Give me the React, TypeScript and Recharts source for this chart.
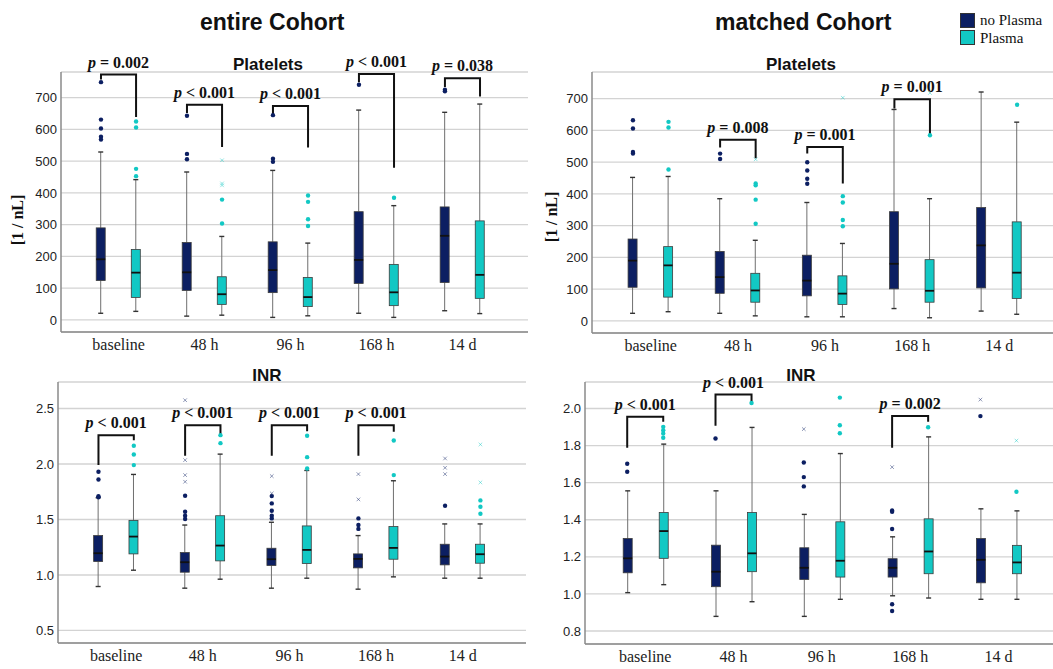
import React from 'react';
import { ComposedChart, Bar, Scatter, Line, XAxis, YAxis, CartesianGrid } from 'recharts';

const W = 1053;
const H = 669;
const NAVY = '#0c1f62';
const CYAN = '#12c8c4';
const OFF = 0.204; // half distance between the two boxes of one category, in category units
const SANS = '"Liberation Sans", Arial, sans-serif';
const SERIF = '"Liberation Serif", "Times New Roman", serif';

const CATEGORIES = ['baseline', '48 h', '96 h', '168 h', '14 d'];

// box stats: [min, q1, median, q3, max] per category
const ENTIRE_PLT_NO = [[21, 124, 191, 290, 529], [12, 93, 150, 244, 466], [8, 86, 157, 246, 471], [21, 115, 189, 341, 661], [29, 118, 265, 356, 654]];
const ENTIRE_PLT_YES = [[27, 71, 149, 222, 442], [15, 49, 81, 136, 263], [13, 42, 72, 134, 242], [8, 45, 87, 175, 360], [20, 68, 142, 312, 680]];
const ENTIRE_PLT_OUT_NO = [[749, 631, 603, 577, 568], [643, 523, 506], [645, 508, 498], [741], [725, 720]];
const ENTIRE_PLT_OUT_YES = [[625, 606, 476, 453], [379, 304], [392, 372, 317, 296], [385], []];
const ENTIRE_PLT_FAINT_NO = [[], [], [], [], []];
const ENTIRE_PLT_FAINT_YES = [[], [503, 430, 424], [704], [], []];
// [category, left leg end, bracket top, right leg end, p text]
const ENTIRE_PLT_P: [number, number, number, number, string][] = [
  [0, 757, 773, 639, '= 0.002'],
  [1, 652, 678, 545, '< 0.001'],
  [2, 645, 674, 543, '< 0.001'],
  [3, 749, 775, 479, '< 0.001'],
  [4, 734, 761, 704, '= 0.038'],
];

const MATCHED_PLT_NO = [[24, 106, 190, 258, 452], [24, 87, 138, 219, 385], [13, 79, 127, 207, 373], [39, 101, 180, 344, 666], [31, 104, 238, 357, 721]];
const MATCHED_PLT_YES = [[29, 75, 175, 234, 455], [16, 59, 96, 150, 254], [13, 52, 86, 142, 244], [10, 59, 95, 193, 385], [21, 71, 152, 312, 626]];
const MATCHED_PLT_OUT_NO = [[632, 606, 532, 527], [527, 510], [500, 474, 448, 432], [], []];
const MATCHED_PLT_OUT_YES = [[627, 609, 477], [433, 427, 382, 306], [393, 373, 318, 298], [585], [681]];
const MATCHED_PLT_FAINT_NO = [[], [], [], [], []];
const MATCHED_PLT_FAINT_YES = [[], [509], [703], [718], []];
const MATCHED_PLT_P: [number, number, number, number, string][] = [
  [1, 546, 571, 512, '= 0.008'],
  [2, 527, 548, 433, '= 0.001'],
  [3, 669, 698, 580, '= 0.001'],
];

const ENTIRE_INR_NO = [[0.896, 1.121, 1.196, 1.355, 1.696], [0.881, 1.025, 1.115, 1.202, 1.45], [0.881, 1.085, 1.142, 1.241, 1.475], [0.872, 1.064, 1.145, 1.19, 1.355], [0.971, 1.091, 1.166, 1.277, 1.46]];
const ENTIRE_INR_YES = [[1.043, 1.19, 1.346, 1.492, 1.906], [0.962, 1.127, 1.265, 1.534, 2.089], [0.971, 1.103, 1.226, 1.442, 1.942], [0.983, 1.142, 1.244, 1.436, 1.849], [0.971, 1.106, 1.187, 1.277, 1.46]];
const ENTIRE_INR_OUT_NO = [[1.93, 1.86, 1.71, 1.7], [1.714, 1.57, 1.534, 1.504], [1.711, 1.645, 1.579, 1.534, 1.51], [1.51, 1.45, 1.415], [1.624]];
const ENTIRE_INR_OUT_YES = [[2.164, 2.086, 1.99], [2.26, 2.188], [2.254, 2.062, 1.96], [2.212, 1.9], [1.672, 1.615, 1.552]];
const ENTIRE_INR_FAINT_NO = [[], [2.575, 2.035, 1.9, 1.84], [1.891, 1.735], [1.909, 1.681], [2.05, 1.966, 1.909]];
const ENTIRE_INR_FAINT_YES = [[], [], [], [], [2.176, 1.834]];
const ENTIRE_INR_P: [number, number, number, number, string][] = [
  [0, 1.99, 2.26, 2.215, '< 0.001'],
  [1, 2.074, 2.35, 2.26, '< 0.001'],
  [2, 2.074, 2.35, 2.296, '< 0.001'],
  [3, 2.074, 2.35, 2.29, '< 0.001'],
];

const MATCHED_INR_NO = [[1.007, 1.114, 1.192, 1.299, 1.556], [0.879, 1.039, 1.12, 1.263, 1.556], [0.879, 1.078, 1.141, 1.249, 1.429], [0.99, 1.091, 1.141, 1.19, 1.308], [0.971, 1.06, 1.184, 1.299, 1.459]];
const MATCHED_INR_YES = [[1.05, 1.192, 1.339, 1.439, 1.808], [0.958, 1.12, 1.219, 1.439, 1.898], [0.971, 1.091, 1.179, 1.389, 1.757], [0.978, 1.109, 1.229, 1.405, 1.847], [0.971, 1.109, 1.17, 1.262, 1.448]];
const MATCHED_INR_OUT_NO = [[1.702, 1.659], [1.838], [1.709, 1.63, 1.58], [1.45, 1.443, 1.35, 0.944, 0.908], [1.959]];
const MATCHED_INR_OUT_YES = [[1.901, 1.883, 1.865, 1.842], [2.03], [2.059, 1.91, 1.867], [1.899], [1.551]];
const MATCHED_INR_FAINT_NO = [[], [], [1.889], [1.684], [2.048]];
const MATCHED_INR_FAINT_YES = [[], [], [], [], [1.827]];
const MATCHED_INR_P: [number, number, number, number, string][] = [
  [0, 1.788, 1.955, 1.928, '< 0.001'],
  [1, 1.907, 2.075, 2.036, '< 0.001'],
  [3, 1.788, 1.96, 1.928, '= 0.002'],
];

const PLT_TICKS = [0, 100, 200, 300, 400, 500, 600, 700];
const ENTIRE_INR_TICKS = [0.5, 1.0, 1.5, 2.0, 2.5];
const MATCHED_INR_TICKS = [0.8, 1.0, 1.2, 1.4, 1.6, 1.8, 2.0];

interface PanelProps {
  left: number;
  right: number;
  top: number;
  bottom: number;
  xDomain: [number, number];
  yDomain: [number, number];
  yTicks: number[];
  digits: number;
  no: number[][];
  yes: number[][];
  outNo: number[][];
  outYes: number[][];
  faintNo: number[][];
  faintYes: number[][];
  brackets: [number, number, number, number, string][];
}

function BoxShape(props: any) {
  const { x, y, width, height, payload } = props;
  const [min, q1, med, q3, max] = payload.stats;
  // y is the pixel of max, y + height the pixel of min (linear scale)
  const py = (v: number) => y + height - (height * (v - min)) / (max - min);
  const cx = x + width / 2;
  const top = py(q3);
  const bot = py(q1);
  return (
    <g>
      <line x1={cx} x2={cx} y1={py(max)} y2={top} stroke="#6f6f6f" strokeWidth={1} />
      <line x1={cx} x2={cx} y1={bot} y2={py(min)} stroke="#6f6f6f" strokeWidth={1} />
      <line x1={cx - 2.5} x2={cx + 2.5} y1={py(max)} y2={py(max)} stroke="#333" strokeWidth={1.4} />
      <line x1={cx - 2.5} x2={cx + 2.5} y1={py(min)} y2={py(min)} stroke="#333" strokeWidth={1.4} />
      <rect x={x} y={top} width={width} height={bot - top} fill={payload.color} stroke="#3c3c3c" strokeWidth={0.8} />
      <line x1={x} x2={x + width} y1={py(med)} y2={py(med)} stroke="#111" strokeWidth={1.8} />
    </g>
  );
}

function OutlierShape(props: any) {
  const { cx, cy, payload } = props;
  if (payload.faint) {
    return (
      <g stroke={payload.color} strokeOpacity={0.45} strokeWidth={1}>
        <line x1={cx - 1.8} x2={cx + 1.8} y1={cy - 1.8} y2={cy + 1.8} />
        <line x1={cx - 1.8} x2={cx + 1.8} y1={cy + 1.8} y2={cy - 1.8} />
      </g>
    );
  }
  return <circle cx={cx} cy={cy} r={2.2} fill={payload.color} />;
}

function PLabel(props: any) {
  const { cx, cy, payload } = props;
  return (
    <text x={cx} y={cy - 7} textAnchor="middle" fontFamily={SERIF} fontWeight="bold" fontSize={16} fill="#111">
      <tspan fontStyle="italic">p</tspan>
      {' ' + payload.text}
    </text>
  );
}

function Panel(p: PanelProps) {
  const boxes: any[] = [];
  const outliers: any[] = [];
  CATEGORIES.forEach((_, i) => {
    const groups: [number[], number[], number[], string, number][] = [
      [p.no[i], p.outNo[i], p.faintNo[i], NAVY, i - OFF],
      [p.yes[i], p.outYes[i], p.faintYes[i], CYAN, i + OFF],
    ];
    groups.forEach(([stats, out, faint, color, x]) => {
      boxes.push({ x, range: [stats[0], stats[4]], stats, color });
      out.forEach((v) => outliers.push({ x, y: v, color, faint: false }));
      faint.forEach((v) => outliers.push({ x, y: v, color, faint: true }));
    });
  });
  const labels = p.brackets.map(([c, , t, , text]) => ({ x: c, y: t, text }));

  return (
    <div style={{ position: 'absolute', left: 0, top: 0 }}>
      <ComposedChart
        width={W}
        height={H}
        data={boxes}
        margin={{ top: p.top, left: p.left - 40, right: W - p.right, bottom: H - p.bottom - 30 }}
      >
        <CartesianGrid vertical={false} stroke="#d3d3d3" strokeWidth={1.3} />
        <XAxis
          dataKey="x"
          type="number"
          domain={p.xDomain}
          ticks={[0, 1, 2, 3, 4]}
          interval={0}
          tickFormatter={(v: number) => CATEGORIES[Math.round(v)]}
          height={30}
          tickLine={false}
          tickSize={0}
          tickMargin={7}
          axisLine={{ stroke: '#8a8a8a', strokeWidth: 1.5 }}
          tick={{ fill: '#222', fontSize: 16, fontFamily: SERIF }}
        />
        <YAxis
          type="number"
          domain={p.yDomain}
          ticks={p.yTicks}
          interval={0}
          tickFormatter={(v: number) => v.toFixed(p.digits)}
          width={40}
          tickLine={false}
          tickSize={0}
          tickMargin={4}
          axisLine={{ stroke: '#8a8a8a', strokeWidth: 1.5 }}
          tick={{ fill: '#222', fontSize: 13, fontFamily: SANS }}
        />
        <Bar dataKey="range" barSize={9} shape={BoxShape} isAnimationActive={false} />
        {p.brackets.map(([c, l, t, r]) => (
          <Line
            key={'br' + c}
            data={[
              { x: c - OFF, y: l },
              { x: c - OFF, y: t },
              { x: c + OFF, y: t },
              { x: c + OFF, y: r },
            ]}
            dataKey="y"
            type="linear"
            stroke="#111"
            strokeWidth={2}
            dot={false}
            activeDot={false}
            isAnimationActive={false}
          />
        ))}
        <Scatter data={outliers} dataKey="y" shape={OutlierShape} isAnimationActive={false} />
        <Scatter data={labels} dataKey="y" shape={PLabel} isAnimationActive={false} />
      </ComposedChart>
    </div>
  );
}

const textBase: React.CSSProperties = { position: 'absolute', whiteSpace: 'nowrap', color: '#111' };

function Centered({ cx, cy, text, style }: { cx: number; cy: number; text: string; style: React.CSSProperties }) {
  return (
    <div style={{ ...textBase, left: cx - 100, top: cy - 12, width: 200, height: 24, lineHeight: '24px', textAlign: 'center', ...style }}>
      {text}
    </div>
  );
}

export default function App() {
  const title = { fontFamily: SANS, fontWeight: 'bold', fontSize: 23 } as React.CSSProperties;
  const sub = { fontFamily: SANS, fontWeight: 'bold', fontSize: 17 } as React.CSSProperties;
  const ylab = { fontFamily: SERIF, fontWeight: 'bold', fontSize: 16, transform: 'rotate(-90deg)' } as React.CSSProperties;
  const leg = { fontFamily: SERIF, fontSize: 15 } as React.CSSProperties;
  return (
    <div style={{ position: 'absolute', left: 0, top: 0, width: W, height: H, background: '#fff', overflow: 'hidden' }}>
      <Panel
        left={61} right={528} top={72} bottom={332}
        xDomain={[-0.669, 4.762]} yDomain={[-38, 781]} yTicks={PLT_TICKS} digits={0}
        no={ENTIRE_PLT_NO} yes={ENTIRE_PLT_YES} outNo={ENTIRE_PLT_OUT_NO} outYes={ENTIRE_PLT_OUT_YES}
        faintNo={ENTIRE_PLT_FAINT_NO} faintYes={ENTIRE_PLT_FAINT_YES} brackets={ENTIRE_PLT_P}
      />
      <Panel
        left={592} right={1053} top={72} bottom={333}
        xDomain={[-0.674, 4.616]} yDomain={[-38, 784]} yTicks={PLT_TICKS} digits={0}
        no={MATCHED_PLT_NO} yes={MATCHED_PLT_YES} outNo={MATCHED_PLT_OUT_NO} outYes={MATCHED_PLT_OUT_YES}
        faintNo={MATCHED_PLT_FAINT_NO} faintYes={MATCHED_PLT_FAINT_YES} brackets={MATCHED_PLT_P}
      />
      <Panel
        left={58} right={526} top={382} bottom={643}
        xDomain={[-0.671, 4.73]} yDomain={[0.387, 2.739]} yTicks={ENTIRE_INR_TICKS} digits={1}
        no={ENTIRE_INR_NO} yes={ENTIRE_INR_YES} outNo={ENTIRE_INR_OUT_NO} outYes={ENTIRE_INR_OUT_YES}
        faintNo={ENTIRE_INR_FAINT_NO} faintYes={ENTIRE_INR_FAINT_YES} brackets={ENTIRE_INR_P}
      />
      <Panel
        left={585} right={1053} top={382} bottom={644}
        xDomain={[-0.682, 4.618]} yDomain={[0.73, 2.143]} yTicks={MATCHED_INR_TICKS} digits={1}
        no={MATCHED_INR_NO} yes={MATCHED_INR_YES} outNo={MATCHED_INR_OUT_NO} outYes={MATCHED_INR_OUT_YES}
        faintNo={MATCHED_INR_FAINT_NO} faintYes={MATCHED_INR_FAINT_YES} brackets={MATCHED_INR_P}
      />

      <div style={{ ...textBase, ...title, left: 200, top: 8, lineHeight: '28px' }}>entire Cohort</div>
      <div style={{ ...textBase, ...title, left: 715, top: 8, lineHeight: '28px' }}>matched Cohort</div>
      <Centered cx={268} cy={65} text="Platelets" style={sub} />
      <Centered cx={801} cy={65} text="Platelets" style={sub} />
      <Centered cx={267} cy={376} text="INR" style={sub} />
      <Centered cx={801} cy={376} text="INR" style={sub} />
      <Centered cx={18} cy={220} text="[1 / nL]" style={ylab} />
      <Centered cx={552} cy={217} text="[1 / nL]" style={ylab} />

      <div style={{ position: 'absolute', left: 960, top: 13, width: 13, height: 13, background: NAVY, border: '1px solid #333' }} />
      <div style={{ position: 'absolute', left: 960, top: 30, width: 13, height: 13, background: CYAN, border: '1px solid #333' }} />
      <div style={{ ...textBase, ...leg, left: 980, top: 10, lineHeight: '20px' }}>no Plasma</div>
      <div style={{ ...textBase, ...leg, left: 980, top: 28, lineHeight: '20px' }}>Plasma</div>
    </div>
  );
}
